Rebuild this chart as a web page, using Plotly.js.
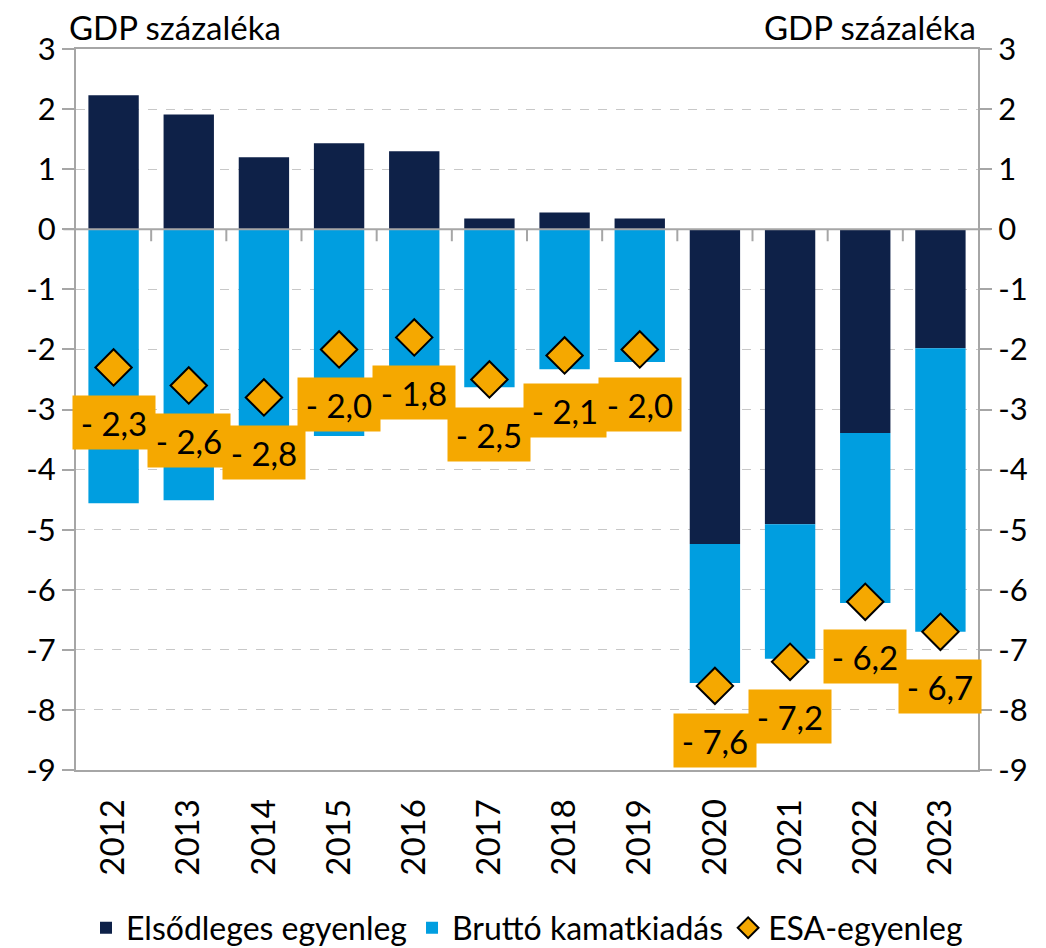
<!DOCTYPE html>
<html><head><meta charset="utf-8">
<script src="https://cdn.plot.ly/plotly-3.0.1.min.js"></script>
<style>html,body{margin:0;padding:0;background:#fff}#chart{width:1046px;height:948px}</style>
</head><body><div id="chart"></div>
<script>
const years = ['2012','2013','2014','2015','2016','2017','2018','2019','2020','2021','2022','2023'];
const primaryBalance = [2.23,1.91,1.20,1.43,1.30,0.18,0.28,0.18,-5.24,-4.91,-3.39,-1.98];
const grossInterest = [-4.56,-4.51,-4.00,-3.44,-3.10,-2.63,-2.33,-2.21,-2.31,-2.24,-2.83,-4.72];
const esaBalance = [-2.3,-2.6,-2.8,-2.0,-1.8,-2.5,-2.1,-2.0,-7.6,-7.2,-6.2,-6.7];
const yTickVals = [3,2,1,0,-1,-2,-3,-4,-5,-6,-7,-8,-9];
const yTickText = ['3','2','1','0','-1','-2','-3','-4','-5','-6','-7','-8','-9'];
const seriesNames = ['Elsődleges egyenleg','Bruttó kamatkiadás','ESA-egyenleg'];
const unitLabel = 'GDP százaléka';

const FONT = 'Lato, "Open Sans", sans-serif';
const NAVY = '#0e2148', BLUE = '#009ee0', ORANGE = '#f5a800', AXIS = '#a6a6a6';

const fmt = v => (v < 0 ? '- ' : '') + Math.abs(v).toFixed(1).replace('.', ',');

const traces = [
  {type:'bar', x:years, y:primaryBalance, name:seriesNames[0], marker:{color:NAVY}},
  {type:'bar', x:years, y:grossInterest, name:seriesNames[1], marker:{color:BLUE}},
  {type:'scatter', mode:'markers', x:years, y:esaBalance, yaxis:'y2', name:seriesNames[2],
   marker:{symbol:'diamond', size:28, color:ORANGE, line:{color:'#000', width:2}}}
];

const annotations = esaBalance.map((v,i)=>({
  x: i, y: v, xref:'x', yref:'y', text: fmt(v), showarrow:false,
  yshift:-55, xanchor:'center', yanchor:'middle',
  bgcolor: ORANGE, width:78, height:49, borderpad:2,
  font:{family:FONT, size:33, color:'#000'}
}));
annotations.push({xref:'paper', yref:'paper', x:-0.01, y:1.0, xanchor:'left', yanchor:'bottom',
  text:unitLabel, showarrow:false, font:{family:FONT, size:33, color:'#000'}});
annotations.push({xref:'paper', yref:'paper', x:1, y:1.0, xanchor:'right', yanchor:'bottom',
  text:unitLabel, showarrow:false, font:{family:FONT, size:33, color:'#000'}});

// tick marks on the zero line, at category boundaries
const shapes = years.slice(1).map((_,i)=>({
  type:'line', xref:'x', yref:'y', ysizemode:'pixel', yanchor:0,
  x0:i+0.5, x1:i+0.5, y0:0, y1:-12, line:{color:AXIS, width:2}
}));
shapes.push({type:'line', xref:'paper', yref:'y', x0:-0.014, x1:1.014, y0:0, y1:0, line:{color:AXIS, width:2}});

const yAx = {
  range:[-9,3], tickvals:yTickVals, ticktext:yTickText, tickfont:{family:FONT,size:31,color:'#000'},
  ticks:'outside', ticklen:12, tickcolor:AXIS, tickwidth:2,
  showline:true, linecolor:AXIS, linewidth:2, automargin:false,
  showgrid:true, gridcolor:'#c8c8c8', griddash:'dash', gridwidth:1, zeroline:false
};

const layout = {
  width:1046, height:948,
  margin:{l:76, r:68, t:49, b:178, autoexpand:false},
  paper_bgcolor:'#fff', plot_bgcolor:'#fff',
  barmode:'relative', bargap:0.33,
  font:{family:FONT, color:'#000'},
  showlegend:true,
  legend:{orientation:'h', x:0.5, xanchor:'center', y:-0.219, yanchor:'middle',
    font:{family:FONT, size:32, color:'#000'}, itemwidth:30, tracegroupgap:0, traceorder:'normal'},
  xaxis:{type:'category', tickangle:-90, tickfont:{family:FONT,size:33,color:'#000'}, automargin:false,
    ticklabelstandoff:14,
    showline:true, linecolor:AXIS, linewidth:2, mirror:true, ticks:'', showgrid:false, range:[-0.5,11.5]},
  yaxis: Object.assign({}, yAx),
  yaxis2: Object.assign({}, yAx, {overlaying:'y', side:'right', showgrid:false}),
  annotations: annotations,
  shapes: shapes
};

Plotly.newPlot('chart', traces, layout, {displayModeBar:false, staticPlot:true});
</script></body></html>
